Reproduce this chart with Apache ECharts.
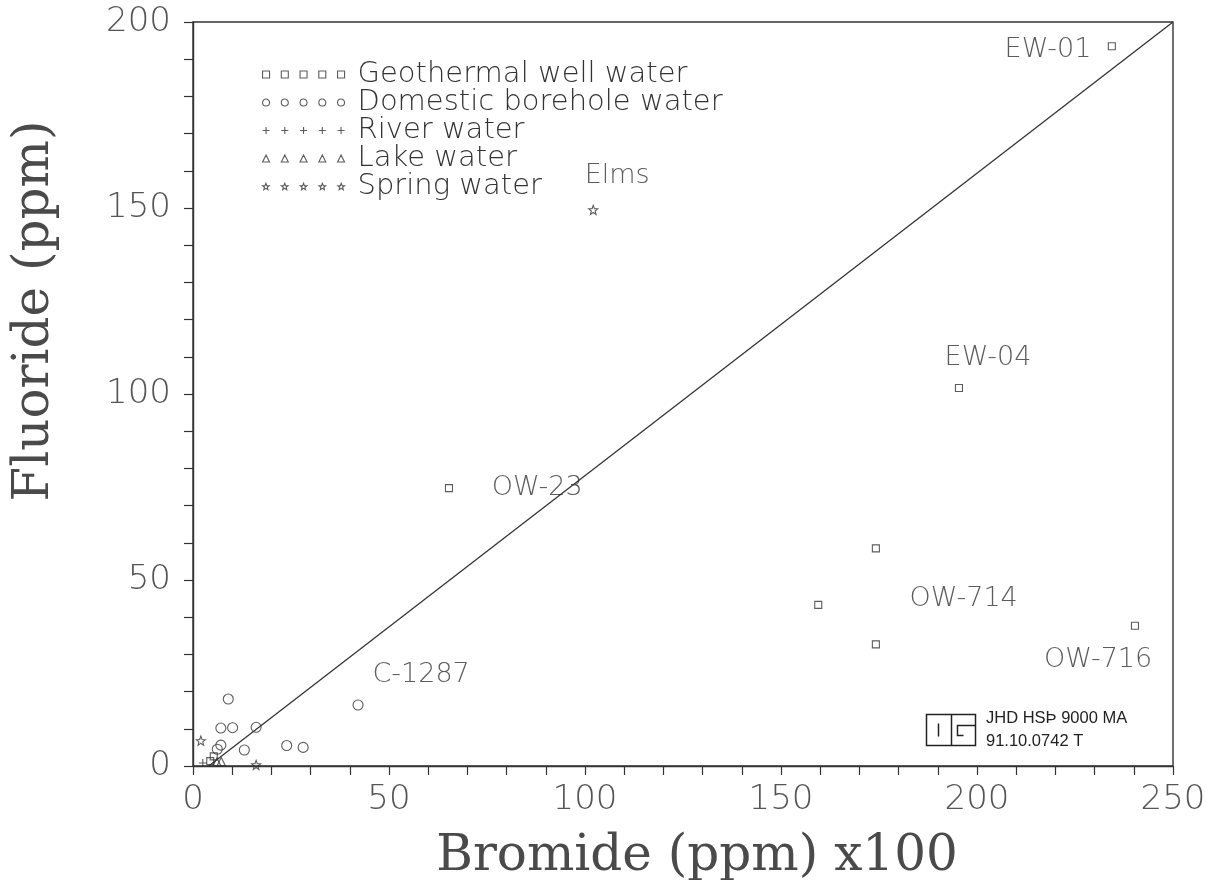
<!DOCTYPE html>
<html>
<head>
<meta charset="utf-8">
<script src="https://cdn.jsdelivr.net/npm/echarts@6/dist/echarts.min.js"></script>
<style>html,body{margin:0;padding:0;background:#fff}#chart{width:1210px;height:880px}</style>
</head>
<body>
<div id="chart"></div>
<script>
// ---- data ----
const geoX = [234.4, 195.4, 65.3, 174.2, 159.5, 174.2, 240.3, 4.4, 5.3];
const geoY = [193.5, 101.6, 74.7, 58.5, 43.3, 32.7, 37.7, 1.3, 2.6];
const domX = [9.0, 7.1, 10.1, 16.1, 7.1, 6.2, 13.1, 23.9, 28.1, 42.1];
const domY = [18.0, 10.2, 10.3, 10.4, 5.6, 4.5, 4.3, 5.5, 5.0, 16.4];
const riverX = [2.5];
const riverY = [0.8];
const lakeX = [6.1, 7.2];
const lakeY = [1.1, 1.2];
const springX = [2.0, 102.1, 16.1];
const springY = [6.8, 149.5, 0.3];
const lineX = [4, 250];
const lineY = [0, 200];
const labelText = ['EW-01', 'EW-04', 'OW-23', 'OW-714', 'OW-716', 'C-1287', 'Elms'];
const labelX = [218.1, 202.8, 87.8, 196.6, 230.9, 58.2, 108.2];
const labelY = [192.5, 109.7, 74.7, 44.9, 28.5, 24.5, 158.6];
const seriesNames = ['Geothermal well water', 'Domestic borehole water', 'River water', 'Lake water', 'Spring water'];
const xTicks = [0, 50, 100, 150, 200, 250];
const yTicks = [0, 50, 100, 150, 200];

const zip = (xs, ys) => xs.map((x, i) => [x, ys[i]]);
const INK = '#333';

// cell shapes (7x7 box) for symbols
const cellPath = {
  square: (o) => `M${o},0h7v7h-7z`,
  circle: (o) => `M${o},3.5a3.5,3.5 0 1,0 7,0a3.5,3.5 0 1,0 -7,0`,
  plus: (o) => `M${o + 3.5},0V7M${o},3.5H${o + 7}`,
  triangle: (o) => `M${o},7L${o + 3.5},0L${o + 7},7Z`,
  star: (o) => {
    const pts = [];
    for (let k = 0; k < 10; k++) {
      const r = k % 2 === 0 ? 3.5 : 1.5;
      const a = -Math.PI / 2 + k * Math.PI / 5;
      pts.push([(o + 3.5 + r * Math.cos(a)).toFixed(2), (3.7 + r * Math.sin(a)).toFixed(2)]);
    }
    return 'M' + pts.map(p => p.join(',')).join('L') + 'Z';
  }
};
const kinds = ['square', 'circle', 'plus', 'triangle', 'star'];
const legendIcon = (kind) => 'path://' + [0, 1, 2, 3, 4].map(i => cellPath[kind](i * 18.75)).join('');
const pointSymbol = (kind) => 'path://' + cellPath[kind](0);

const hollow = { color: 'transparent', borderColor: INK, borderWidth: 1.1 };
const symbolSizes = [7, 10, 8, 8, 9];
const pointSymbols = ['rect', 'circle', pointSymbol('plus'), 'triangle', pointSymbol('star')];
const seriesData = [zip(geoX, geoY), zip(domX, domY), zip(riverX, riverY), zip(lakeX, lakeY), zip(springX, springY)];

const chart = echarts.init(document.getElementById('chart'), null, { renderer: 'canvas' });

const scatterSeries = seriesNames.map((name, i) => ({
  name, type: 'scatter', data: seriesData[i], symbol: pointSymbols[i], symbolSize: symbolSizes[i],
  itemStyle: hollow, z: 3, animation: false, emphasis: { disabled: true }
}));

const option = {
  animation: false,
  backgroundColor: '#fff',
  grid: { left: 193, right: 37, top: 22, bottom: 114, show: true, borderColor: INK, borderWidth: 1.4,
    containLabel: false, outerBoundsMode: 'none' },
  xAxis: {
    type: 'value', min: 0, max: 250, interval: 50,
    name: 'Bromide (ppm) x100', nameLocation: 'middle', nameGap: 66,
    nameTextStyle: { fontFamily: 'DejaVu Serif', fontSize: 50, color: '#4a4a4a', padding: [0, 0, 0, 28] },
    axisLine: { show: true, lineStyle: { color: INK, width: 1.4 } },
    axisTick: { show: true, length: 9, inside: false, lineStyle: { color: INK, width: 1.2 } },
    minorTick: { show: true, splitNumber: 5, length: 9, lineStyle: { color: INK, width: 1.2 } },
    splitLine: { show: false },
    axisLabel: { margin: 17, fontFamily: 'DejaVu Sans', fontWeight: 200, fontSize: 34, color: '#555',
      formatter: v => xTicks.includes(v) ? String(v) : '' }
  },
  yAxis: {
    type: 'value', min: 0, max: 200, interval: 50,
    name: 'Fluoride (ppm)', nameLocation: 'middle', nameGap: 133,
    nameTextStyle: { fontFamily: 'DejaVu Serif', fontSize: 50, color: '#4a4a4a', padding: [0, 0, 0, 166] },
    axisLine: { show: true, lineStyle: { color: INK, width: 1.4 } },
    axisTick: { show: true, length: 9, inside: false, lineStyle: { color: INK, width: 1.2 } },
    minorTick: { show: true, splitNumber: 5, length: 9, lineStyle: { color: INK, width: 1.2 } },
    splitLine: { show: false },
    axisLabel: { margin: 22, fontFamily: 'DejaVu Sans', fontWeight: 200, fontSize: 34, color: '#555',
      formatter: v => yTicks.includes(v) ? String(v) : '' }
  },
  legend: {
    orient: 'vertical', left: 257, top: 55, itemGap: -1,
    itemWidth: 82, itemHeight: 7, selectedMode: false,
    textStyle: { fontFamily: 'DejaVu Sans', fontWeight: 200, fontSize: 29, color: '#333', lineHeight: 26.8, padding: [0, 0, 0, 8] },
    data: seriesNames.map((name, i) => ({ name, icon: legendIcon(kinds[i]), itemStyle: hollow }))
  },
  series: [
    ...scatterSeries,
    {
      name: 'ratio line', type: 'line', data: zip(lineX, lineY), symbol: 'none', z: 2,
      lineStyle: { color: INK, width: 1.3 }, silent: true
    },
    {
      name: 'labels', type: 'scatter', data: zip(labelX, labelY).map((p, i) => ({ value: p, name: labelText[i] })),
      symbolSize: 0, silent: true, z: 4,
      label: { show: true, position: 'inside', formatter: p => p.name,
        fontFamily: 'DejaVu Sans', fontWeight: 200, fontSize: 27, color: '#333' }
    }
  ],
  graphic: [
    {
      type: 'group', left: 924, top: 712, silent: true,
      children: [
        { type: 'rect', shape: { x: 0, y: 0, width: 49, height: 31 }, style: { fill: 'none', stroke: '#222', lineWidth: 1.5 } },
        { type: 'line', shape: { x1: 25, y1: 0, x2: 25, y2: 31 }, style: { stroke: '#222', lineWidth: 1.5 } },
        { type: 'line', shape: { x1: 12, y1: 9, x2: 12, y2: 22 }, style: { stroke: '#222', lineWidth: 1.5 } },
        { type: 'polyline', shape: { points: [[49, 11], [31, 11], [31, 21], [37, 21]] }, style: { fill: 'none', stroke: '#222', lineWidth: 1.5 } }
      ]
    },
    { type: 'text', left: 986, top: 710, silent: true,
      style: { text: 'JHD HSÞ 9000 MA', font: '16.5px "Liberation Sans", Arial, sans-serif', fill: '#222' } },
    { type: 'text', left: 986, top: 733, silent: true,
      style: { text: '91.10.0742 T', font: '16.5px "Liberation Sans", Arial, sans-serif', fill: '#222' } }
  ]
};
chart.setOption(option);
</script>
</body>
</html>
